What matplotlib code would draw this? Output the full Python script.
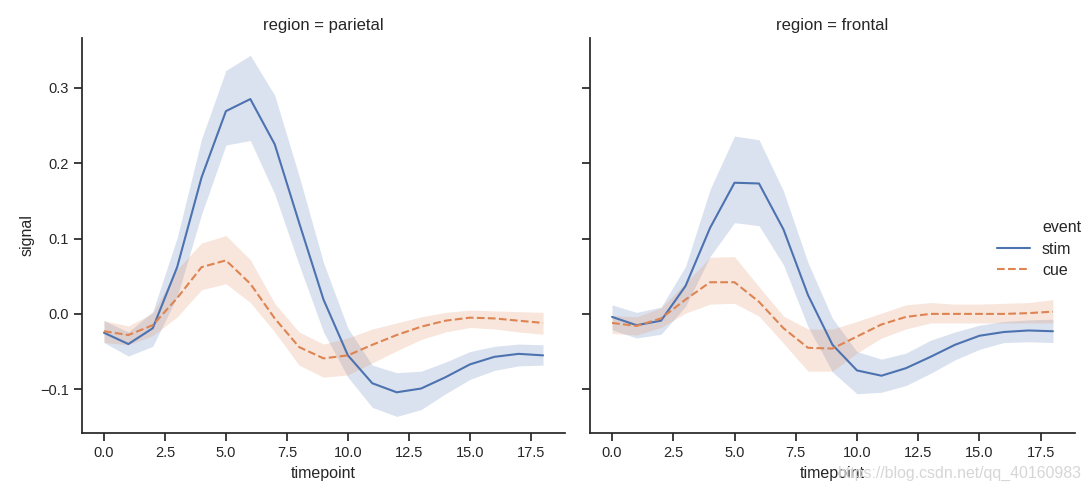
import numpy as np
import matplotlib
matplotlib.use("Agg")
import matplotlib.pyplot as plt
from matplotlib.lines import Line2D
import seaborn as sns

sns.set_theme(style="ticks")
plt.rcParams['font.family'] = ['Liberation Sans', 'DejaVu Sans']

timepoints = list(range(19))
regions = ["parietal", "frontal"]
events = ["stim", "cue"]

# parietal, stim
par_stim = [-0.025, -0.040, -0.019, 0.062, 0.181, 0.269, 0.285, 0.225, 0.121, 0.019,
            -0.055, -0.092, -0.104, -0.099, -0.084, -0.067, -0.057, -0.053, -0.055]
par_stim_hi = [-0.009, -0.024, 0.003, 0.101, 0.232, 0.323, 0.343, 0.290, 0.183, 0.068,
               -0.019, -0.068, -0.078, -0.076, -0.064, -0.050, -0.043, -0.040, -0.041]
par_stim_lo = [-0.038, -0.056, -0.043, 0.023, 0.132, 0.224, 0.230, 0.159, 0.065, -0.024,
               -0.084, -0.124, -0.136, -0.127, -0.106, -0.087, -0.075, -0.069, -0.068]
# parietal, cue
par_cue = [-0.023, -0.028, -0.015, 0.021, 0.062, 0.071, 0.040, -0.006, -0.044, -0.059,
           -0.055, -0.041, -0.028, -0.017, -0.009, -0.005, -0.006, -0.009, -0.012]
par_cue_hi = [-0.009, -0.016, 0.001, 0.059, 0.094, 0.104, 0.072, 0.014, -0.024, -0.040,
              -0.032, -0.020, -0.012, -0.004, 0.002, 0.005, 0.004, 0.003, 0.002]
par_cue_lo = [-0.038, -0.041, -0.029, -0.004, 0.032, 0.040, 0.015, -0.024, -0.068, -0.084,
              -0.081, -0.065, -0.049, -0.034, -0.024, -0.018, -0.020, -0.024, -0.027]
# frontal, stim
fro_stim = [-0.004, -0.015, -0.009, 0.037, 0.114, 0.174, 0.173, 0.112, 0.025, -0.041,
            -0.075, -0.082, -0.072, -0.057, -0.041, -0.029, -0.024, -0.022, -0.023]
fro_stim_hi = [0.012, 0.002, 0.009, 0.063, 0.165, 0.236, 0.231, 0.163, 0.068, -0.006,
               -0.050, -0.060, -0.052, -0.035, -0.024, -0.015, -0.010, -0.008, -0.007]
fro_stim_lo = [-0.021, -0.032, -0.027, 0.010, 0.076, 0.121, 0.117, 0.065, -0.017, -0.077,
               -0.106, -0.104, -0.095, -0.079, -0.061, -0.047, -0.038, -0.037, -0.038]
# frontal, cue
fro_cue = [-0.012, -0.016, -0.006, 0.019, 0.042, 0.042, 0.016, -0.019, -0.045, -0.046,
           -0.030, -0.014, -0.004, 0.000, 0.000, 0.000, 0.000, 0.001, 0.003]
fro_cue_hi = [-0.002, -0.004, 0.008, 0.041, 0.075, 0.076, 0.036, -0.003, -0.020, -0.020,
              -0.010, 0.001, 0.012, 0.015, 0.013, 0.013, 0.014, 0.015, 0.019]
fro_cue_lo = [-0.026, -0.028, -0.018, 0.001, 0.013, 0.014, -0.003, -0.039, -0.076, -0.076,
              -0.052, -0.032, -0.020, -0.012, -0.012, -0.012, -0.012, -0.012, -0.012]

series = {
    ("parietal", "stim"): (par_stim, par_stim_lo, par_stim_hi),
    ("parietal", "cue"): (par_cue, par_cue_lo, par_cue_hi),
    ("frontal", "stim"): (fro_stim, fro_stim_lo, fro_stim_hi),
    ("frontal", "cue"): (fro_cue, fro_cue_lo, fro_cue_hi),
}
colors = {"stim": "#4C72B0", "cue": "#DD8452"}
dashes = {"stim": "-", "cue": (0, (3.7, 1.6))}

fig = plt.figure(figsize=(10.92, 5), dpi=100)
ax1 = fig.add_axes([0.0751, 0.134, 0.4423, 0.79])
ax2 = fig.add_axes([0.5403, 0.134, 0.4441, 0.79], sharey=ax1)

handles = []
for ax, region in zip([ax1, ax2], regions):
    for ev in events:
        m, lo, hi = series[(region, ev)]
        line, = ax.plot(timepoints, m, color=colors[ev], linestyle=dashes[ev], lw=1.5, label=ev)
        ax.fill_between(timepoints, lo, hi, color=colors[ev], alpha=0.2, lw=0)
        if ax is ax1:
            handles.append(line)
    ax.set_title("region = " + region, fontsize=12)
    ax.set_xlabel("timepoint", fontsize=11.5)
    ax.set_xticks(np.arange(0, 18, 2.5))
    ax.tick_params(labelsize=10.5)
    ax.set_xlim(-0.9, 18.9)
    sns.despine(ax=ax)

ax1.set_ylim(-0.158, 0.366)
ax1.set_yticks([-0.1, 0.0, 0.1, 0.2, 0.3])
ax1.set_ylabel("signal", fontsize=11.5)
ax2.tick_params(labelleft=False)

# old-style seaborn legend: hue name as a row with an empty handle
blank = Line2D([], [], linestyle="none")
leg = fig.legend([blank] + handles, ["event"] + events, frameon=False, fontsize=11.5,
                 loc="center left", bbox_to_anchor=(0.900, 0.502),
                 handlelength=2.05, handletextpad=0.75, labelspacing=0.4)

fig.text(0.991, 0.054, "https://blog.csdn.net/qq_40160983", ha="right", va="center",
         fontsize=11.4, color="#d6d6d6")

fig.savefig("out.png", dpi=100)
